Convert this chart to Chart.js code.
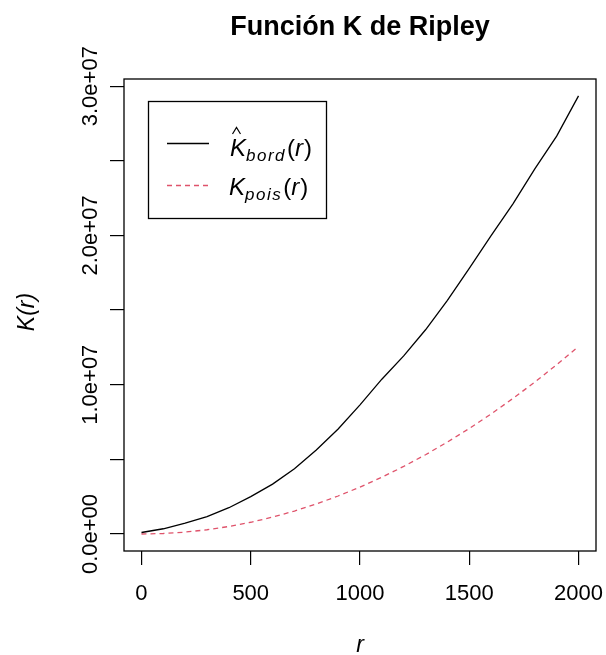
<!DOCTYPE html>
<html>
<head>
<meta charset="utf-8">
<script src="https://cdn.jsdelivr.net/npm/chart.js@4.4.0/dist/chart.umd.min.js"></script>
<style>
  body { margin: 0; background: #fff; }
</style>
</head>
<body>
<canvas id="ripleyCanvas" width="606" height="655"></canvas>
<script>
// distancias r y valores de K(r)
const radios = [0, 100, 200, 300, 400, 500, 600, 700, 800, 900, 1000,
  1100, 1200, 1300, 1400, 1500, 1600, 1700, 1800, 1900, 2000];
const kBorde = [100000, 350000, 720000, 1170000, 1760000, 2500000, 3340000,
  4370000, 5620000, 7030000, 8650000, 10370000, 11930000, 13680000,
  15650000, 17800000, 19980000, 22120000, 24460000, 26650000, 29350000];
const kPois = [0, 31400, 125700, 282700, 502700, 785400, 1131000, 1539000,
  2011000, 2545000, 3142000, 3801000, 4524000, 5309000, 6158000, 7069000,
  8042000, 9079000, 10179000, 11341000, 12566000];

const ticksX = [0, 500, 1000, 1500, 2000];
const ticksY = [0, 5e6, 1e7, 1.5e7, 2e7, 2.5e7, 3e7];
const etiquetasY = ['0.0e+00', '', '1.0e+07', '', '2.0e+07', '', '3.0e+07'];

const FUENTE = '"Liberation Sans", Arial, sans-serif';
const ROJO = '#DF536B';

// texto con subindice estilo plotmath: K_sub(r)
function textoK(ctx, x, base, sub) {
  ctx.textAlign = 'left';
  ctx.textBaseline = 'alphabetic';
  ctx.font = 'italic 24px ' + FUENTE;
  ctx.fillText('K', x, base);
  x += ctx.measureText('K').width;
  ctx.font = 'italic 17px ' + FUENTE;
  let sx = x;
  for (const c of sub) {
    ctx.fillText(c, sx, base + 5);
    sx += ctx.measureText(c).width + 1.5;
  }
  x = sx + 1;
  ctx.font = '24px ' + FUENTE;
  ctx.fillText('(', x, base);
  x += ctx.measureText('(').width;
  ctx.font = 'italic 24px ' + FUENTE;
  ctx.fillText('r', x, base);
  x += ctx.measureText('r').width + 1;
  ctx.font = '24px ' + FUENTE;
  ctx.fillText(')', x, base);
}

const decoracion = {
  id: 'decoracion',
  afterDraw(chart) {
    const { ctx, chartArea: a, scales } = chart;
    ctx.save();
    ctx.strokeStyle = '#000';
    ctx.fillStyle = '#000';

    // caja alrededor del area de trazado
    ctx.lineWidth = 1.3;
    ctx.strokeRect(a.left, a.top, a.right - a.left, a.bottom - a.top);

    // titulo
    ctx.font = 'bold 27px ' + FUENTE;
    ctx.textAlign = 'center';
    ctx.textBaseline = 'alphabetic';
    ctx.fillText('Función K de Ripley', (a.left + a.right) / 2, 35);

    // etiquetas del eje y, giradas 90 grados
    ctx.font = '22px ' + FUENTE;
    ticksY.forEach((v, i) => {
      if (!etiquetasY[i]) return;
      const y = scales.y.getPixelForValue(v);
      ctx.save();
      ctx.translate(97, y);
      ctx.rotate(-Math.PI / 2);
      ctx.fillText(etiquetasY[i], 0, 0);
      ctx.restore();
    });

    // titulos de los ejes
    ctx.save();
    ctx.translate(34, (a.top + a.bottom) / 2 - 3);
    ctx.rotate(-Math.PI / 2);
    ctx.font = 'italic 23px ' + FUENTE;
    ctx.fillText('K(r)', 0, 0);
    ctx.restore();
    ctx.font = 'italic 23px ' + FUENTE;
    ctx.fillText('r', (a.left + a.right) / 2, 652);

    // leyenda
    ctx.lineWidth = 1.3;
    ctx.strokeRect(148.5, 101.5, 178, 117);
    ctx.beginPath();
    ctx.moveTo(167, 143.5);
    ctx.lineTo(209, 143.5);
    ctx.stroke();
    ctx.save();
    ctx.strokeStyle = ROJO;
    ctx.setLineDash([5, 4]);
    ctx.beginPath();
    ctx.moveTo(167, 185.5);
    ctx.lineTo(209, 185.5);
    ctx.stroke();
    ctx.restore();

    textoK(ctx, 230, 156, 'bord');
    // sombrero sobre la K
    ctx.lineWidth = 1.2;
    ctx.beginPath();
    ctx.moveTo(232.5, 134);
    ctx.lineTo(236.5, 127.5);
    ctx.lineTo(240.5, 134);
    ctx.stroke();
    textoK(ctx, 229, 195, 'pois');

    ctx.restore();
  }
};

const ejeComun = {
  type: 'linear',
  grid: { drawOnChartArea: false, drawTicks: true, tickLength: 14, color: '#000', lineWidth: 1.2 },
  border: { display: false }
};

new Chart(document.getElementById('ripleyCanvas'), {
  type: 'line',
  data: {
    datasets: [
      {
        label: 'K bord',
        data: radios.map((r, i) => ({ x: r, y: kBorde[i] })),
        borderColor: '#000',
        borderWidth: 1.3,
        pointRadius: 0,
        tension: 0
      },
      {
        label: 'K pois',
        data: radios.map((r, i) => ({ x: r, y: kPois[i] })),
        borderColor: ROJO,
        borderWidth: 1.3,
        borderDash: [5, 4],
        pointRadius: 0,
        tension: 0
      }
    ]
  },
  options: {
    responsive: false,
    animation: false,
    layout: { padding: { top: 79, right: 10, left: 0, bottom: 0 } },
    plugins: {
      legend: { display: false },
      title: { display: false },
      tooltip: { enabled: false }
    },
    scales: {
      x: {
        ...ejeComun,
        min: -80,
        max: 2080,
        afterBuildTicks: (s) => { s.ticks = ticksX.map(v => ({ value: v })); },
        afterFit: (s) => {
          s.height = 104;
          s.paddingLeft = 0;
          s.paddingRight = 0;
        },
        ticks: {
          color: '#000',
          font: { family: FUENTE, size: 22 },
          padding: 16,
          maxRotation: 0,
          autoSkip: false,
          callback: (v) => String(v)
        }
      },
      y: {
        ...ejeComun,
        min: -1.14e6,
        max: 3.048e7,
        afterBuildTicks: (s) => { s.ticks = ticksY.map(v => ({ value: v })); },
        afterFit: (s) => {
          s.width = 124;
          s.paddingTop = 0;
          s.paddingBottom = 0;
        },
        ticks: { display: false }
      }
    }
  },
  plugins: [decoracion]
});
</script>
</body>
</html>
